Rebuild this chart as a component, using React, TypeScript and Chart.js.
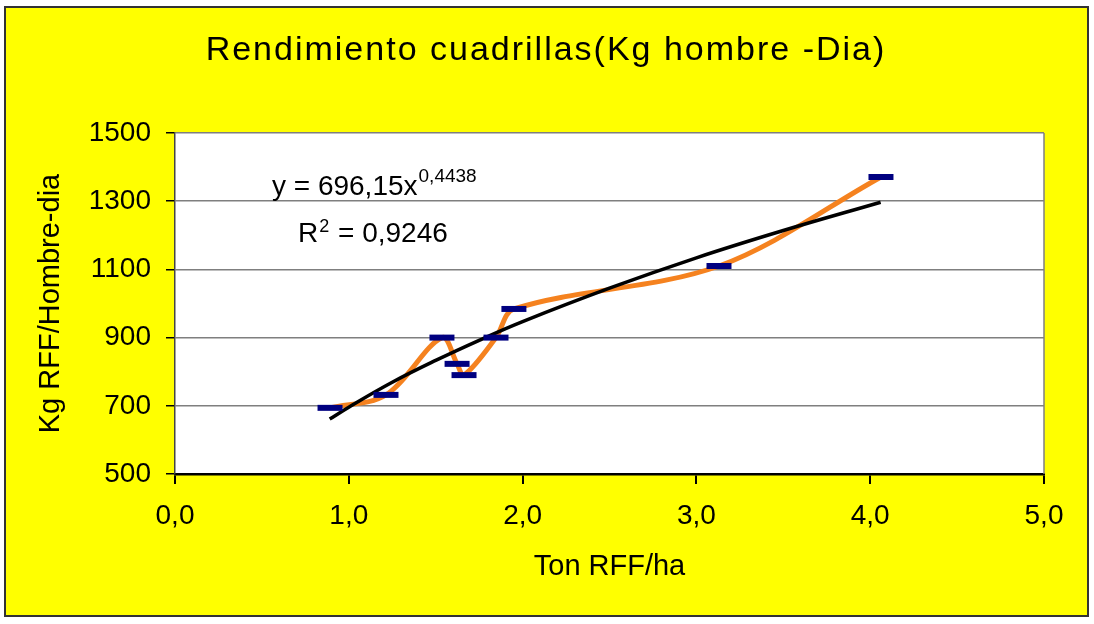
import React, { useEffect, useRef } from "react";
import { Chart, registerables } from "chart.js";
Chart.register(...registerables);

// Observed data points (navy dash markers, joined by smoothed orange line)
const pointX = [0.892, 1.214, 1.536, 1.623, 1.663, 1.847, 1.95, 3.13, 4.062];
const pointY = [694, 732, 900, 823, 790, 900, 984, 1110, 1371];
// Power trendline
const trendX = [0.89, 1.0, 1.25, 1.5, 1.75, 2.0, 2.5, 3.0, 3.5, 4.06];
const trendY = [661, 696, 769, 833, 892, 947, 1045, 1134, 1214, 1297];
// Tick values
const yTicks = [500, 700, 900, 1100, 1300, 1500];
const xTicks = [0, 1, 2, 3, 4, 5];
// Texts
const titleText = "Rendimiento cuadrillas(Kg hombre -Dia)";
const xTitle = "Ton RFF/ha";
const yTitle = "Kg RFF/Hombre-dia";
const eqMain = "y = 696,15x";
const eqExp = "0,4438";
const r2Main = "R";
const r2Sup = "2";
const r2Rest = " = 0,9246";
// Annotation anchors (data units)
const eqAnchor = [0.558, 1318];
const r2Anchor = [0.708, 1180];

const FONT = "'Liberation Sans', Arial, sans-serif";

const framePlugin = {
  id: "frame",
  beforeDraw(chart: any) {
    const { ctx, width, height, chartArea } = chart;
    ctx.save();
    ctx.fillStyle = "#ffffff";
    ctx.fillRect(0, 0, width, height);
    ctx.fillStyle = "#ffff00";
    ctx.fillRect(5, 7, 1083, 609);
    ctx.strokeStyle = "#333333";
    ctx.lineWidth = 2;
    ctx.strokeRect(5, 7, 1083, 609);
    ctx.fillStyle = "#ffffff";
    ctx.fillRect(chartArea.left, chartArea.top, chartArea.right - chartArea.left, chartArea.bottom - chartArea.top);
    ctx.restore();
  },
  afterDraw(chart: any) {
    const { ctx, chartArea, scales } = chart;
    const xs = scales.x;
    const ys = scales.y;
    ctx.save();
    // right border of plot area
    ctx.strokeStyle = "#7f7f7f";
    ctx.lineWidth = 1.5;
    ctx.beginPath();
    ctx.moveTo(chartArea.right, chartArea.top);
    ctx.lineTo(chartArea.right, chartArea.bottom);
    ctx.stroke();

    // title
    ctx.fillStyle = "#000";
    ctx.font = `34px ${FONT}`;
    (ctx as any).letterSpacing = "2px";
    ctx.textAlign = "left";
    ctx.textBaseline = "alphabetic";
    const tw = ctx.measureText(titleText).width;
    ctx.fillText(titleText, 546 - tw / 2, 60);
    (ctx as any).letterSpacing = "0px";

    // equation
    ctx.textAlign = "left";
    ctx.font = `28px ${FONT}`;
    let x = xs.getPixelForValue(eqAnchor[0]);
    let y = ys.getPixelForValue(eqAnchor[1]);
    ctx.fillText(eqMain, x, y);
    let w = ctx.measureText(eqMain).width;
    ctx.font = `19px ${FONT}`;
    ctx.fillText(eqExp, x + w + 1, y - 13);

    // R squared
    ctx.font = `28px ${FONT}`;
    x = xs.getPixelForValue(r2Anchor[0]);
    y = ys.getPixelForValue(r2Anchor[1]);
    ctx.fillText(r2Main, x, y);
    w = ctx.measureText(r2Main).width;
    ctx.font = `18px ${FONT}`;
    ctx.fillText(r2Sup, x + w + 1, y - 10);
    const w2 = ctx.measureText(r2Sup).width;
    ctx.font = `28px ${FONT}`;
    ctx.fillText(r2Rest, x + w + w2 + 2, y);
    ctx.restore();
  },
};

export default function App() {
  const ref = useRef<HTMLCanvasElement | null>(null);
  useEffect(() => {
    if (!ref.current) return;
    const chart = new Chart(ref.current, {
      type: "scatter",
      data: {
        datasets: [
          {
            label: "markers",
            data: pointX.map((v, i) => ({ x: v, y: pointY[i] })),
            showLine: false,
            pointStyle: "line",
            pointRadius: 12.5,
            pointHoverRadius: 12.5,
            pointBorderWidth: 6,
            pointBorderColor: "#000080",
            pointBackgroundColor: "#000080",
            order: 1,
          },
          {
            label: "trend",
            data: trendX.map((v, i) => ({ x: v, y: trendY[i] })),
            showLine: true,
            borderColor: "#000000",
            borderWidth: 3.5,
            tension: 0.4,
            pointRadius: 0,
            order: 2,
          },
          {
            label: "line",
            data: pointX.map((v, i) => ({ x: v, y: pointY[i] })),
            showLine: true,
            borderColor: "#f5821f",
            borderWidth: 5,
            tension: 0.33,
            pointRadius: 0,
            order: 3,
          },
        ],
      },
      options: {
        animation: false,
        responsive: false,
        maintainAspectRatio: false,
        events: [],
        layout: { padding: { left: 10, top: 133, right: 50, bottom: 0 } },
        plugins: { legend: { display: false }, tooltip: { enabled: false }, title: { display: false } },
        scales: {
          x: {
            type: "linear",
            min: 0,
            max: 5,
            afterBuildTicks: (s: any) => {
              s.ticks = xTicks.map((v) => ({ value: v }));
            },
            afterFit: (s: any) => {
              s.height = 150;
            },
            ticks: {
              font: { family: FONT, size: 28 },
              color: "#000",
              padding: 15,
              maxRotation: 0,
              callback: (v: any) => Number(v).toFixed(1).replace(".", ","),
            },
            grid: { drawOnChartArea: false, drawTicks: true, tickLength: 10, tickColor: "#000", lineWidth: 2 },
            border: { display: true, color: "#000", width: 2.5 },
            title: { display: true, text: xTitle, font: { family: FONT, size: 29 }, color: "#000", padding: { bottom: 40 } },
          },
          y: {
            type: "linear",
            min: 500,
            max: 1500,
            afterBuildTicks: (s: any) => {
              s.ticks = yTicks.map((v) => ({ value: v }));
            },
            afterFit: (s: any) => {
              s.width = 165;
            },
            ticks: {
              font: { family: FONT, size: 28 },
              color: "#000",
              padding: 15,
              callback: (v: any) => String(v),
            },
            grid: { color: "#7f7f7f", lineWidth: 1.5, tickColor: "#000", tickLength: 9 },
            border: { display: true, color: "#444", width: 1.5 },
            title: { display: true, text: yTitle, font: { family: FONT, size: 29 }, color: "#000", padding: { top: 24 } },
          },
        },
      },
      plugins: [framePlugin],
    } as any);
    return () => chart.destroy();
  }, []);
  return (
    <div style={{ position: "fixed", left: 0, top: 0, width: 1094, height: 624, background: "#fff" }}>
      <canvas ref={ref} width={1094} height={624} style={{ display: "block", width: 1094, height: 624 }} />
    </div>
  );
}
